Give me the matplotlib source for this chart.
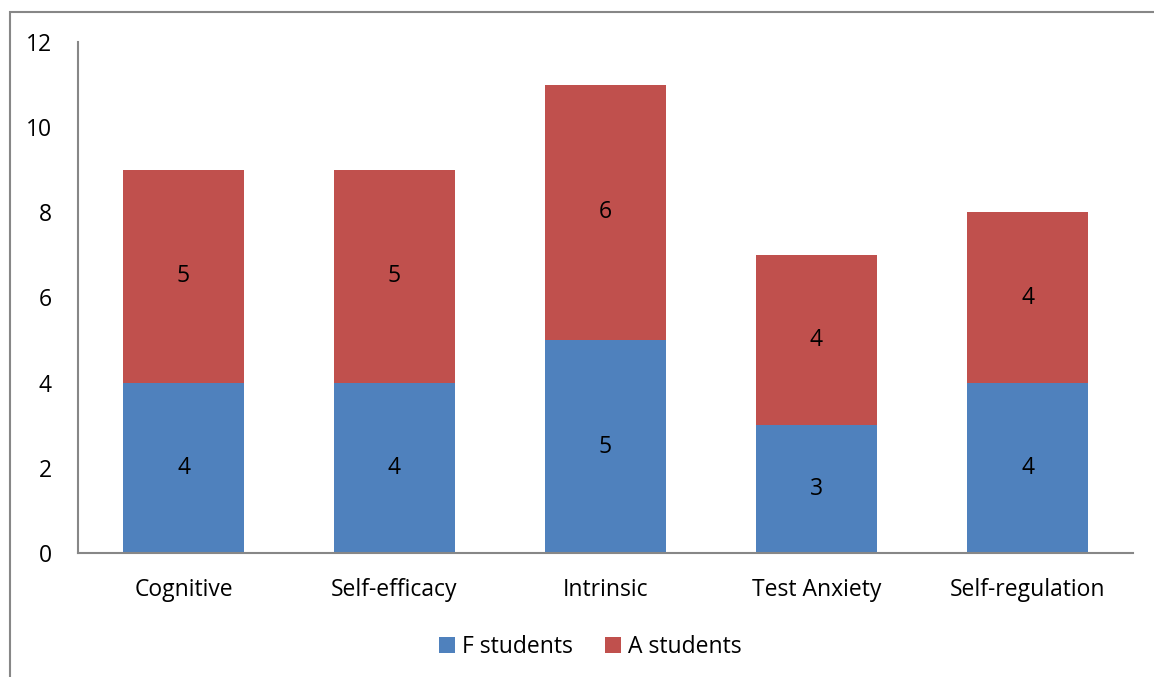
import matplotlib
matplotlib.use('AGG')
import matplotlib.pyplot as plt
from matplotlib.patches import Rectangle
import numpy as np

categories = ['Cognitive', 'Self-efficacy', 'Intrinsic', 'Test Anxiety', 'Self-regulation']
f_students = [4, 4, 5, 3, 4]
a_students = [5, 5, 6, 4, 4]

plt.rcParams['font.family'] = ['Open Sans', 'DejaVu Sans']
FS = 16.5

fig = plt.figure(figsize=(11.54, 6.77), dpi=100)
ax = fig.add_axes([78 / 1154, 1 - 553 / 677, (1133 - 78) / 1154, (553 - 42) / 677])

# outer chart border (left and top visible)
fig.add_artist(Rectangle((10 / 1154, -0.1), 1.2, 1 - 12 / 677 + 0.1,
                         transform=fig.transFigure, fill=False,
                         edgecolor='#878787', linewidth=1.5))

x = np.arange(len(categories))
width = 1 / 1.75
b1 = ax.bar(x, f_students, width, color='#4f81bd', label='F students')
b2 = ax.bar(x, a_students, width, bottom=f_students, color='#c0504d', label='A students')

for bars, vals, bottoms in [(b1, f_students, [0] * 5), (b2, a_students, f_students)]:
    for rect, v, b in zip(bars, vals, bottoms):
        ax.text(rect.get_x() + rect.get_width() / 2, b + v / 2, str(v),
                ha='center', va='center', fontsize=FS, color='black')

ax.set_xlim(-0.5, len(categories) - 0.5)
ax.set_ylim(0, 12)
ax.set_yticks(range(0, 13, 2))
ax.set_xticks(x)
ax.set_xticklabels(categories)
ax.tick_params(axis='both', length=0, labelsize=FS)
ax.tick_params(axis='y', pad=19)
ax.tick_params(axis='x', pad=18)
for s in ['top', 'right']:
    ax.spines[s].set_visible(False)
for s in ['left', 'bottom']:
    ax.spines[s].set_color('#878787')
    ax.spines[s].set_linewidth(1.5)

fig.legend(loc='center', bbox_to_anchor=(590 / 1154, 1 - 647 / 677), ncol=2,
           frameon=False, fontsize=FS, handlelength=0.7, handleheight=0.7,
           columnspacing=1.4, handletextpad=0.3)

fig.savefig('out.png', dpi=100)
